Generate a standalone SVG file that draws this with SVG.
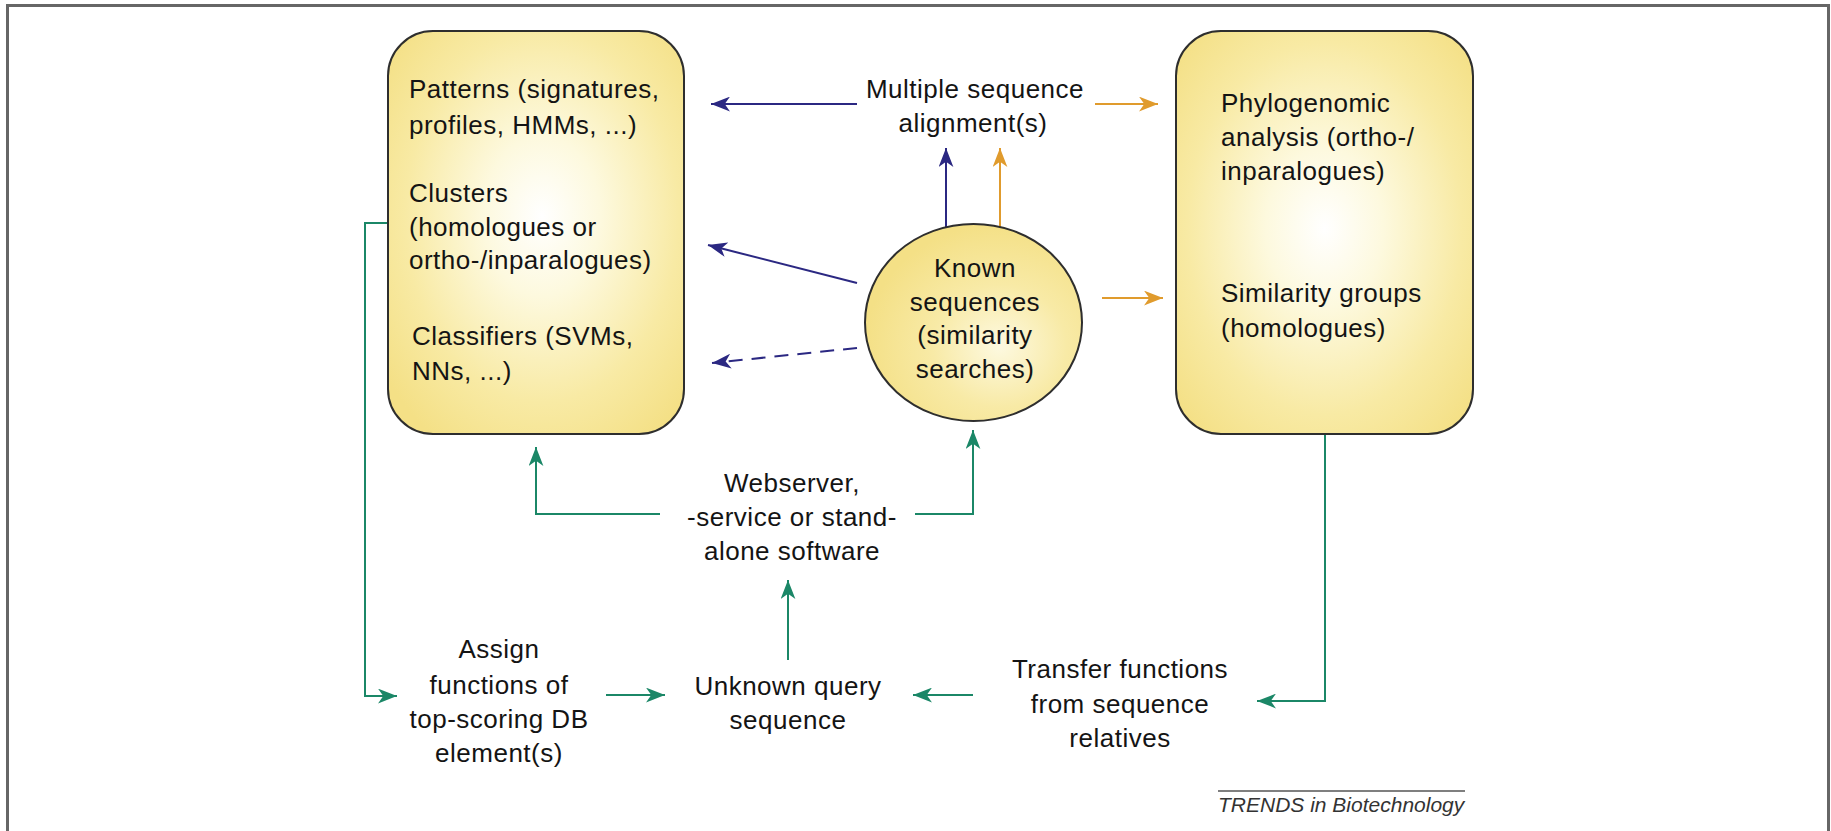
<svg xmlns="http://www.w3.org/2000/svg" width="1831" height="831" viewBox="0 0 1831 831">
  <style>
    .lbl { font-family: "Liberation Sans", Arial, sans-serif; font-size: 26px; letter-spacing: 0.5px; fill: #141414; }
    .mid { text-anchor: middle; }
    .box { stroke: #2e2e2e; stroke-width: 2; }
    .blue { stroke: #2b2882; stroke-width: 2; fill: none; }
    .orange { stroke: #e09b2d; stroke-width: 2; fill: none; }
    .green { stroke: #1b8767; stroke-width: 2; fill: none; }
    .credit { font-family: "Liberation Sans", Arial, sans-serif; font-size: 21px; font-style: italic; fill: #333; }
  </style>
  <defs>
    <radialGradient id="glowL" cx="0.52" cy="0.46" r="0.66">
      <stop offset="0" stop-color="#ffffff"/>
      <stop offset="0.3" stop-color="#fdf9de"/>
      <stop offset="0.7" stop-color="#f8eaa4"/>
      <stop offset="1" stop-color="#f4e086"/>
    </radialGradient>
    <radialGradient id="glowR" cx="0.5" cy="0.49" r="0.66">
      <stop offset="0" stop-color="#ffffff"/>
      <stop offset="0.3" stop-color="#fdf9de"/>
      <stop offset="0.7" stop-color="#f8eaa4"/>
      <stop offset="1" stop-color="#f4e086"/>
    </radialGradient>
    <radialGradient id="glowE" cx="0.62" cy="0.62" r="0.62">
      <stop offset="0" stop-color="#fdf9e0"/>
      <stop offset="0.5" stop-color="#f8eaa6"/>
      <stop offset="1" stop-color="#f4e086"/>
    </radialGradient>
    <marker id="headBlue" viewBox="0 0 18 14" refX="18" refY="7" markerWidth="19" markerHeight="15" markerUnits="userSpaceOnUse" orient="auto">
      <path d="M18,7 L0,0 L5,7 L0,14 Z" fill="#2b2882"/>
    </marker>
    <marker id="headOrange" viewBox="0 0 18 14" refX="18" refY="7" markerWidth="19" markerHeight="15" markerUnits="userSpaceOnUse" orient="auto">
      <path d="M18,7 L0,0 L5,7 L0,14 Z" fill="#e09b2d"/>
    </marker>
    <marker id="headGreen" viewBox="0 0 18 14" refX="18" refY="7" markerWidth="19" markerHeight="15" markerUnits="userSpaceOnUse" orient="auto">
      <path d="M18,7 L0,0 L5,7 L0,14 Z" fill="#1b8767"/>
    </marker>
  </defs>

  <!-- page frame -->
  <rect x="7.5" y="5.5" width="1821" height="840" fill="none" stroke="#666" stroke-width="3"/>

  <!-- connectors -->
  <g id="connectors">
    <!-- blue: towards the database resources -->
    <line class="blue" x1="857" y1="104" x2="711" y2="104" marker-end="url(#headBlue)"/>
    <line class="blue" x1="857" y1="283" x2="708" y2="245" marker-end="url(#headBlue)"/>
    <line class="blue" x1="857" y1="348" x2="712" y2="363" stroke-dasharray="14 9" marker-end="url(#headBlue)"/>
    <line class="blue" x1="946" y1="227" x2="946" y2="148" marker-end="url(#headBlue)"/>
    <!-- orange: towards phylogenomic resources -->
    <line class="orange" x1="1000" y1="229" x2="1000" y2="148" marker-end="url(#headOrange)"/>
    <line class="orange" x1="1095" y1="104" x2="1158" y2="104" marker-end="url(#headOrange)"/>
    <line class="orange" x1="1102" y1="298" x2="1163" y2="298" marker-end="url(#headOrange)"/>
    <!-- green: query workflow -->
    <polyline class="green" points="660,514 536,514 536,447" marker-end="url(#headGreen)"/>
    <polyline class="green" points="915,514 973,514 973,430" marker-end="url(#headGreen)"/>
    <line class="green" x1="788" y1="660" x2="788" y2="580" marker-end="url(#headGreen)"/>
    <polyline class="green" points="388,223 365,223 365,696 397,696" stroke-width="1.5" marker-end="url(#headGreen)"/>
    <line class="green" x1="606" y1="695" x2="665" y2="695" marker-end="url(#headGreen)"/>
    <line class="green" x1="973" y1="695" x2="913" y2="695" marker-end="url(#headGreen)"/>
    <polyline class="green" points="1325,434 1325,701 1257,701" marker-end="url(#headGreen)"/>
  </g>

  <!-- database resources -->
  <g id="db-resources">
    <rect class="box" x="388" y="31" width="296" height="403" rx="45" ry="45" fill="url(#glowL)"/>
    <text class="lbl" x="409" y="98">Patterns (signatures,</text>
    <text class="lbl" x="409" y="134">profiles, HMMs, ...)</text>
    <text class="lbl" x="409" y="202">Clusters</text>
    <text class="lbl" x="409" y="236">(homologues or</text>
    <text class="lbl" x="409" y="269">ortho-/inparalogues)</text>
    <text class="lbl" x="412" y="345">Classifiers (SVMs,</text>
    <text class="lbl" x="412" y="380">NNs, ...)</text>
  </g>

  <!-- phylogenomic resources -->
  <g id="phylo-resources">
    <rect class="box" x="1176" y="31" width="297" height="403" rx="45" ry="45" fill="url(#glowR)"/>
    <text class="lbl" x="1221" y="112">Phylogenomic</text>
    <text class="lbl" x="1221" y="146">analysis (ortho-/</text>
    <text class="lbl" x="1221" y="180">inparalogues)</text>
    <text class="lbl" x="1221" y="302">Similarity groups</text>
    <text class="lbl" x="1221" y="337">(homologues)</text>
  </g>

  <!-- known sequences -->
  <g id="known-sequences">
    <ellipse class="box" cx="973.5" cy="322.5" rx="108.5" ry="98.5" fill="url(#glowE)"/>
    <text class="lbl mid" x="975" y="277">Known</text>
    <text class="lbl mid" x="975" y="311">sequences</text>
    <text class="lbl mid" x="975" y="344">(similarity</text>
    <text class="lbl mid" x="975" y="378">searches)</text>
  </g>

  <g id="msa">
    <text class="lbl mid" x="975" y="98">Multiple sequence</text>
    <text class="lbl mid" x="973" y="132">alignment(s)</text>
  </g>

  <g id="webserver">
    <text class="lbl mid" x="792" y="492">Webserver,</text>
    <text class="lbl mid" x="792" y="526">-service or stand-</text>
    <text class="lbl mid" x="792" y="560">alone software</text>
  </g>

  <g id="assign">
    <text class="lbl mid" x="499" y="658">Assign</text>
    <text class="lbl mid" x="499" y="694">functions of</text>
    <text class="lbl mid" x="499" y="728">top-scoring DB</text>
    <text class="lbl mid" x="499" y="762">element(s)</text>
  </g>

  <g id="query">
    <text class="lbl mid" x="788" y="695">Unknown query</text>
    <text class="lbl mid" x="788" y="729">sequence</text>
  </g>

  <g id="transfer">
    <text class="lbl mid" x="1120" y="678">Transfer functions</text>
    <text class="lbl mid" x="1120" y="713">from sequence</text>
    <text class="lbl mid" x="1120" y="747">relatives</text>
  </g>

  <!-- journal credit -->
  <g id="credit">
    <line x1="1218" y1="791" x2="1465" y2="791" stroke="#555" stroke-width="1.5"/>
    <text class="credit" x="1218" y="812">TRENDS in Biotechnology</text>
  </g>
</svg>
